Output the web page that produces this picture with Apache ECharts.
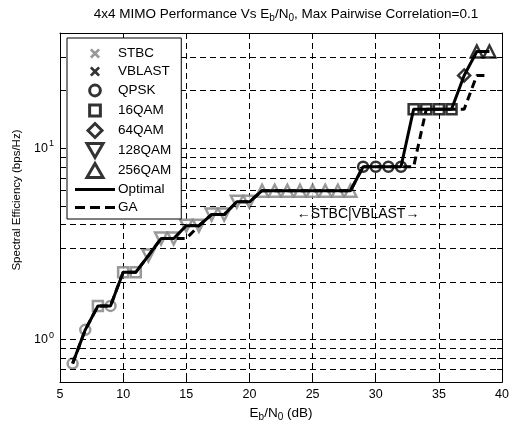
<!DOCTYPE html>
<html>
<head>
<meta charset="utf-8">
<script src="https://cdn.jsdelivr.net/npm/echarts@6/dist/echarts.min.js"></script>
<style>
  html, body { margin: 0; padding: 0; background: #fff; }
  #chart { width: 512px; height: 427px; }
</style>
</head>
<body>
<div id="chart"></div>
<script>
// Datos (Eb/N0 en dB, eficiencia espectral en bps/Hz)
const snr = [6, 7, 8, 9, 10, 11, 12, 13, 14, 15, 16, 17, 18, 19, 20,
  21, 22, 23, 24, 25, 26, 27, 28, 29, 30, 31, 32, 33, 34, 35, 36, 37, 38, 39];
const optimal = [0.75, 1.125, 1.5, 1.5, 2.25, 2.25, 2.75, 3.375, 3.375, 3.94, 3.94, 4.5, 4.5, 5.25, 5.25,
  6, 6, 6, 6, 6, 6, 6, 6, 8, 8, 8, 8, 16, 16, 16, 16, 24, 32, 32];
const ga = [0.75, 1.125, 1.5, 1.5, 2.25, 2.25, 2.75, 3.375, 3.375, 3.375, 3.94, 4.5, 4.5, 5.25, 5.25,
  6, 6, 6, 6, 6, 6, 6, 6, 8, 8, 8, 8, 8, 16, 16, 16, 16, 24, 24];
const modulation = ['QPSK', 'QPSK', '16QAM', 'QPSK', '16QAM', '16QAM',
  '128QAM', '128QAM', '128QAM', '128QAM', '128QAM', '128QAM', '128QAM', '128QAM', '128QAM',
  '256QAM', '256QAM', '256QAM', '256QAM', '256QAM', '256QAM', '256QAM', '256QAM',
  'QPSK', 'QPSK', 'QPSK', 'QPSK', '16QAM', '16QAM', '16QAM', '16QAM', '64QAM', '256QAM', '256QAM'];
const scheme = snr.map(x => x <= 28 ? 'STBC' : 'VBLAST');

const xTicks = [5, 10, 15, 20, 25, 30, 35, 40];
const yMinorTicks = [0.6, 0.7, 0.8, 0.9, 1, 2, 3, 4, 5, 6, 7, 8, 9, 10, 20, 30, 40];
const yLabels = [1, 10];
const yGrid = [0.6, 0.7, 0.8, 0.9, 1, 2, 3, 4, 5, 6, 7, 8, 9, 10, 20, 30];

const GRIS = '#808080';
const NEGRO = '#000';

// Símbolos estilo MATLAB
const simbolos = {
  'QPSK': 'circle',
  '16QAM': 'rect',
  '64QAM': 'path://M5,0 L10,5 L5,10 L0,5 Z',
  '128QAM': 'path://M0,0 L10,0 L5,8.66 Z',
  '256QAM': 'path://M5,0 L10,8.66 L0,8.66 Z'
};
const tamanos = { 'QPSK': 10, '16QAM': 10, '64QAM': 12, '128QAM': 12, '256QAM': 12 };
const iconoX = 'path://M-1.5,-1.5 L-1.5,-1.51 M0,1.5 L1.5,0 L4,2.5 L6.5,0 L8,1.5 L5.5,4 L8,6.5 L6.5,8 L4,5.5 L1.5,8 L0,6.5 L2.5,4 Z M9.5,9.5 L9.5,9.51';
const iconoLinea = 'path://M0,0 L40,0 L40,3 L0,3 Z';
const iconoDiscontinua = 'path://M0,0 L10,0 L10,3 L0,3 Z M15,0 L25,0 L25,3 L15,3 Z M30,0 L40,0 L40,3 L30,3 Z';

const mods = ['QPSK', '16QAM', '64QAM', '128QAM', '256QAM'];

const seriesMarcadores = mods.map(function (m) {
  const datos = [];
  snr.forEach(function (x, i) {
    if (modulation[i] === m) {
      const c = scheme[i] === 'STBC' ? GRIS : NEGRO;
      datos.push({ value: [x, optimal[i]], itemStyle: { borderColor: c } });
    }
  });
  return {
    name: m,
    type: 'scatter',
    data: datos,
    symbol: simbolos[m],
    symbolSize: tamanos[m],
    itemStyle: { color: '#fff', borderColor: NEGRO, borderWidth: 2.5 },
    z: 3,
    silent: true
  };
});

const chart = echarts.init(document.getElementById('chart'), null, { renderer: 'canvas' });

const fuente = 'Liberation Sans, Arial, Helvetica, sans-serif';
const estiloMarcadorLeyenda = { color: '#fff', borderColor: NEGRO, borderWidth: 3 };

chart.setOption({
  animation: false,
  backgroundColor: '#fff',
  textStyle: { fontFamily: fuente },
  title: {
    text: '4x4 MIMO Performance Vs E{sub|b}/N{sub|0}, Max Pairwise Correlation=0.1',
    left: 281,
    textAlign: 'center',
    top: 0,
    textStyle: {
      fontSize: 13.5, fontWeight: 'normal', color: '#000', fontFamily: fuente,
      rich: { sub: { fontSize: 10, padding: [8, 0, 0, 0], fontFamily: fuente } }
    }
  },
  grid: { left: 60, right: 9, top: 33, bottom: 41 },
  legend: {
    orient: 'vertical',
    left: 67,
    top: 38,
    width: 115,
    z: 20,
    padding: [8, 10, 4, 8],
    itemGap: 3,
    itemWidth: 40,
    itemHeight: 14,
    backgroundColor: '#fff',
    borderColor: NEGRO,
    borderWidth: 1,
    borderRadius: 0,
    selectedMode: false,
    textStyle: { fontSize: 13.5, lineHeight: 15, color: '#000', fontFamily: fuente, padding: [0, 0, 0, -2] },
    data: [
      { name: 'STBC', icon: iconoX, itemStyle: { color: GRIS, borderWidth: 0 } },
      { name: 'VBLAST', icon: iconoX, itemStyle: { color: NEGRO, borderWidth: 0 } },
      { name: 'QPSK', icon: 'path://M-1.5,-1.5 L-1.5,-1.51 M5,0 A5,5 0 1,1 4.99,0 Z M11.5,11.5 L11.5,11.51', itemStyle: estiloMarcadorLeyenda },
      { name: '16QAM', icon: 'path://M-1.5,-1.5 L-1.5,-1.51 M0,0 L10,0 L10,10 L0,10 Z M11.5,11.5 L11.5,11.51', itemStyle: estiloMarcadorLeyenda },
      { name: '64QAM', icon: simbolos['64QAM'], itemStyle: estiloMarcadorLeyenda },
      { name: '128QAM', icon: simbolos['128QAM'], itemStyle: estiloMarcadorLeyenda },
      { name: '256QAM', icon: simbolos['256QAM'], itemStyle: estiloMarcadorLeyenda },
      { name: 'Optimal', icon: iconoLinea, itemStyle: { color: NEGRO, borderWidth: 0 } },
      { name: 'GA', icon: iconoDiscontinua, itemStyle: { color: NEGRO, borderWidth: 0 } }
    ]
  },
  xAxis: [{
    type: 'value',
    min: 5, max: 40, interval: 5,
    position: 'bottom',
    name: 'E{sub|b}/N{sub|0} (dB)',
    nameLocation: 'middle',
    nameGap: 20,
    nameTextStyle: {
      fontSize: 13.5, color: '#000', fontFamily: fuente,
      rich: { sub: { fontSize: 10, padding: [8, 0, 0, 0], fontFamily: fuente } }
    },
    axisLine: { lineStyle: { color: NEGRO, width: 1 } },
    axisTick: { inside: true, length: 5, lineStyle: { color: NEGRO }, customValues: xTicks },
    axisLabel: { color: '#000', fontSize: 12.5, margin: 6, fontFamily: fuente, customValues: xTicks },
    splitLine: { show: true, lineStyle: { color: NEGRO, type: [6, 4], width: 1 } }
  }, {
    type: 'value',
    min: 5, max: 40, interval: 5,
    position: 'top',
    axisLine: { lineStyle: { color: NEGRO, width: 1 } },
    axisTick: { inside: true, length: 5, lineStyle: { color: NEGRO } },
    axisLabel: { show: false },
    splitLine: { show: false }
  }],
  yAxis: [{
    type: 'log',
    logBase: 10,
    min: 0.6, max: 40,
    position: 'left',
    name: 'Spectral Efficiency (bps/Hz)',
    nameLocation: 'middle',
    nameGap: 35,
    nameTextStyle: { fontSize: 11.5, color: '#000', fontFamily: fuente, padding: [0, 0, 0, 15] },
    axisLine: { show: true, lineStyle: { color: NEGRO, width: 1 } },
    axisTick: { show: true, inside: true, length: 5, lineStyle: { color: NEGRO }, customValues: yMinorTicks },
    axisLabel: {
      color: '#000', fontSize: 12.5, margin: 6, fontFamily: fuente,
      customValues: yLabels,
      formatter: function (v) { return '10{sup|' + Math.round(Math.log10(v)) + '}'; },
      rich: { sup: { fontSize: 9, padding: [0, 0, 9, 1], fontFamily: fuente } }
    },
    splitLine: { show: false }
  }, {
    type: 'log',
    logBase: 10,
    min: 0.6, max: 40,
    position: 'right',
    axisLine: { show: true, lineStyle: { color: NEGRO, width: 1 } },
    axisTick: { show: true, inside: true, length: 5, lineStyle: { color: NEGRO }, customValues: yMinorTicks },
    axisLabel: { show: false },
    splitLine: { show: false }
  }],
  series: [
    // Rejilla horizontal (líneas de la escala logarítmica)
    {
      name: 'rejilla',
      type: 'line',
      data: [],
      silent: true,
      z: 1,
      markLine: {
        silent: true,
        symbol: ['none', 'none'],
        label: { show: false },
        lineStyle: { color: NEGRO, type: [6, 4], width: 1 },
        emphasis: { disabled: true },
        data: yGrid.map(v => ({ yAxis: v }))
      }
    },
    { name: 'STBC', type: 'scatter', data: [], symbol: iconoX, itemStyle: { color: GRIS } },
    { name: 'VBLAST', type: 'scatter', data: [], symbol: iconoX, itemStyle: { color: NEGRO } }
  ].concat(seriesMarcadores).concat([
    {
      name: 'Optimal',
      type: 'line',
      data: snr.map((x, i) => [x, optimal[i]]),
      symbol: 'none',
      lineStyle: { color: NEGRO, width: 3 },
      itemStyle: { color: NEGRO },
      z: 5,
      silent: true
    },
    {
      name: 'GA',
      type: 'line',
      data: snr.map((x, i) => [x, ga[i]]),
      symbol: 'none',
      lineStyle: { color: NEGRO, width: 3, type: [8, 5] },
      itemStyle: { color: NEGRO },
      z: 5,
      silent: true
    }
  ])
});

// Anotación de la frontera entre STBC y VBLAST
const pos = chart.convertToPixel({ gridIndex: 0 }, [28.6, 4.5]);
chart.setOption({
  graphic: [{
    type: 'text',
    x: pos[0],
    y: pos[1],
    z: 10,
    style: {
      text: '\u2190STBC|VBLAST\u2192',
      fontSize: 14,
      fontFamily: fuente,
      fill: '#000',
      align: 'center',
      verticalAlign: 'middle'
    }
  }]
});
</script>
</body>
</html>
